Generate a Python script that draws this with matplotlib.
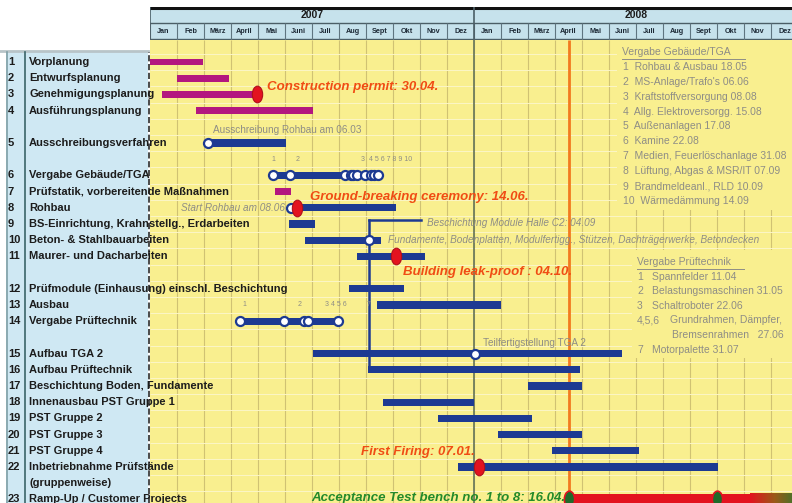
import numpy as np
import pandas as pd
import matplotlib
matplotlib.use("Agg")
import matplotlib.pyplot as plt
from matplotlib.patches import Rectangle
from matplotlib.lines import Line2D
from matplotlib.path import Path
from matplotlib.transforms import Affine2D, blended_transform_factory
from matplotlib.colors import LinearSegmentedColormap

plt.rcParams['font.family'] = ['Liberation Sans', 'DejaVu Sans']

# ---- schedule data -------------------------------------------------------
years = ['2007', '2008']
months = ['Jan', 'Feb', 'März', 'April', 'Mai', 'Juni', 'Juli', 'Aug', 'Sept', 'Okt', 'Nov', 'Dez']

task_names = [
    'Vorplanung', 'Entwurfsplanung', 'Genehmigungsplanung', 'Ausführungsplanung',
    'Ausschreibungsverfahren', 'Vergabe Gebäude/TGA', 'Prüfstatik, vorbereitende Maßnahmen',
    'Rohbau', 'BS-Einrichtung, Krahnstellg., Erdarbeiten', 'Beton- & Stahlbauarbeiten',
    'Maurer- und Dacharbeiten', 'Prüfmodule (Einhausung) einschl. Beschichtung', 'Ausbau',
    'Vergabe Prüftechnik', 'Aufbau TGA 2', 'Aufbau Prüftechnik', 'Beschichtung Boden, Fundamente',
    'Innenausbau PST Gruppe 1', 'PST Gruppe 2', 'PST Gruppe 3', 'PST Gruppe 4',
    'Inbetriebnahme Prüfstände\n(gruppenweise)', 'Ramp-Up / Customer Projects',
]
task_slot = [0, 1, 2, 3, 5, 7, 8, 9, 10, 11, 12, 14, 15, 16, 18, 19, 20, 21, 22, 23, 24, 25, 27]
task_start = ['2007-01-01', '2007-02-01', '2007-01-15', '2007-02-21', '2007-03-06', '2007-05-18',
              '2007-05-21', '2007-06-08', '2007-06-05', '2007-06-23', '2007-08-22', '2007-08-13',
              '2007-09-13', '2007-04-11', '2007-07-02', '2007-09-03', '2008-03-01', '2007-09-20',
              '2007-11-21', '2008-01-29', '2008-03-29', '2007-12-14', '2008-04-16']
task_end = ['2007-02-28', '2007-03-30', '2007-04-30', '2007-07-02', '2007-06-02', '2007-09-18',
            '2007-06-08', '2007-10-05', '2007-07-04', '2007-09-18', '2007-11-06', '2007-10-14',
            '2008-02-01', '2007-07-31', '2008-06-15', '2008-04-29', '2008-05-01', '2008-01-01',
            '2008-03-06', '2008-05-01', '2008-07-05', '2008-10-02', '2008-11-08']
task_kind = ['plan', 'plan', 'plan', 'plan', 'build', 'build', 'plan', 'build', 'build', 'build',
             'build', 'build', 'build', 'build', 'build', 'build', 'build', 'build', 'build',
             'build', 'build', 'build', 'ramp']

# contract awards "Vergabe Gebäude/TGA" (row 6)
tga_items = ['Rohbau & Ausbau', 'MS-Anlage/Trafo\'s', 'Kraftstoffversorgung', 'Allg. Elektroversorgg.',
             'Außenanlagen', 'Kamine', 'Medien, Feuerlöschanlage', 'Lüftung, Abgas & MSR/IT',
             'Brandmeldeanl., RLD', 'Wärmedämmung']
tga_dates = ['2007-05-18', '2007-06-06', '2007-08-08', '2007-08-15', '2007-08-17',
             '2007-08-22', '2007-08-31', '2007-09-07', '2007-09-10', '2007-09-14']

# contract awards "Vergabe Prüftechnik" (row 14)
pt_numbers = ['1', '2', '3', '4,5,6', '7']
pt_items = ['Spannfelder', 'Belastungsmaschinen', 'Schaltroboter',
            'Grundrahmen, Dämpfer,\nBremsenrahmen', 'Motorpalette']
pt_dates = ['2007-04-11', '2007-05-31', '2007-06-22', '2007-06-27', '2007-07-31']

# other open-circle events: (row slot, date)
event_slot = [5, 9, 11, 18]
event_dates = ['2007-03-06', '2007-06-08', '2007-09-04', '2008-01-02']

# milestones (red markers) with their captions
ms_slot = [2, 9, 12, 25]
ms_dates = ['2007-04-30', '2007-06-14', '2007-10-04', '2008-01-07']
ms_text = ['Construction permit: 30.04.', 'Ground-breaking ceremony: 14.06.',
           'Building leak-proof : 04.10.', 'First Firing: 07.01.']

accept_date = '2008-04-16'
ramp_marks = ['2008-04-16', '2008-10-01']

BLUE = '#1d3a92'
MAGENTA = '#b3177f'
RED = '#e3131f'
ORANGE = '#f04c14'
GREEN = '#238a2b'
GREY = '#8e8d86'
YELLOW = '#f9ef8f'
PANEL = '#cfe8f3'
HEAD = '#c6e2ec'
TEXT = '#1c1c1c'


def mpos(date):
    """Month position counted from 1 Jan 2007 (equal width per month)."""
    d = pd.Timestamp(date)
    return (d.year - 2007) * 12 + d.month - 1 + (d.day - 1) / d.days_in_month


W, H = 792, 503
fig = plt.figure(figsize=(W / 100, H / 100), dpi=100)
fig.patch.set_facecolor('white')

XMAX = (W - 150) / 27.0
Y0, DY = 62.0, 16.2
ytop = (40 - Y0) / DY
ybot = (H - Y0) / DY

ax = fig.add_axes([150 / W, 0, (W - 150) / W, (H - 40) / H])
ax.set_facecolor(YELLOW)
ax.set_xlim(0, XMAX)
ax.set_ylim(ybot, ytop)
ax.axis('off')
ax.add_patch(Rectangle((0, ytop), XMAX, ybot - ytop, fc=YELLOW, ec='none', zorder=0))

# grid: months, year boundary, row separators
ax.vlines(np.arange(1, 24), ytop, ybot, color='#d0c273', lw=0.8, zorder=1)
ax.vlines([12], ytop, ybot, color='#6f7d5c', lw=1.3, zorder=1.1)
ax.hlines(np.arange(-1, 28) + 0.5, 0, XMAX, color='#fcf6c6', lw=0.7, zorder=1)

# note boxes hide the grid behind them
ax.add_patch(Rectangle((17.3, ytop), 7, 9.15 - ytop, fc=YELLOW, ec='none', zorder=1.5))
ax.add_patch(Rectangle((17.85, 11.6), 7, 6.7, fc=YELLOW, ec='none', zorder=1.5))

# acceptance date line
ax.vlines([mpos(accept_date)], ytop, 27.1, color='#f27a1f', lw=2, zorder=3)

# connector from 04.09 (Beschichtung Module) down to Aufbau Prüftechnik
xc = mpos('2007-09-04')
ax.plot([xc, xc], [9.75, 19], color=BLUE, lw=1.8, zorder=3.5)
ax.plot([xc, 10.05], [9.75, 9.75], color=BLUE, lw=1.8, zorder=3.5)

# bars
for slot, s, e, kind in zip(task_slot, task_start, task_end, task_kind):
    x0, x1 = mpos(s), mpos(e)
    if kind == 'plan':
        ax.barh(slot, x1 - x0, left=x0, height=0.42, color=MAGENTA, zorder=4)
    elif kind == 'build':
        ax.barh(slot, x1 - x0, left=x0, height=0.44, color=BLUE, zorder=4)
    else:
        ax.barh(slot, x1 - x0, left=x0, height=0.72, color=RED, zorder=4)
        grad = LinearSegmentedColormap.from_list('ramp', [RED, '#9a5a18', '#2f7a2f'])
        ax.imshow(np.linspace(0, 1, 64)[None, :], cmap=grad, aspect='auto',
                  extent=[x1, XMAX + 0.3, slot + 0.36, slot - 0.36], zorder=4)

# open circles for award / start events
circle_kw = dict(marker='o', ms=6.5, mfc='white', mec=BLUE, mew=1.6, ls='none', zorder=5)
ax.plot([mpos(d) for d in tga_dates], [7] * len(tga_dates), **circle_kw)
ax.plot([mpos(d) for d in pt_dates], [16] * len(pt_dates), **circle_kw)
ax.plot([mpos(d) for d in event_dates], event_slot, **circle_kw)

# milestone markers: upright rounded shape
shield = Path.unit_circle().transformed(Affine2D().scale(0.62, 1.0))
ax.plot([mpos(d) for d in ms_dates], ms_slot, marker=shield, ms=12, mfc=RED, mec='#b0101a',
        mew=0.8, ls='none', zorder=6)
ax.plot([mpos(d) for d in ramp_marks], [27] * len(ramp_marks), marker=shield, ms=12,
        mfc='#1f6b2a', mec=RED, mew=1.2, ls='none', zorder=6)

# milestone captions
ms_style = dict(color=ORANGE, fontsize=9.5, fontweight='bold', fontstyle='italic', zorder=7, va='center')
ax.text(mpos(ms_dates[0]) + 0.36, 1.54, ms_text[0], ha='left', **ms_style)
ax.text(mpos(ms_dates[1]) + 0.5, 8.33, ms_text[1], ha='left', **ms_style)
ax.text(mpos(ms_dates[2]) + 0.27, 12.96, ms_text[2], ha='left', **ms_style)
ax.text(mpos(ms_dates[3]) - 0.15, 24.07, ms_text[3], ha='right', **ms_style)
ax.text(mpos(accept_date) - 0.12, 26.9, 'Acceptance Test bench no. 1 to 8: 16.04.', ha='right',
        color=GREEN, fontsize=9.5, fontweight='bold', fontstyle='italic', va='center', zorder=7)

# grey remarks along the bars
note = dict(color=GREY, fontsize=7.2, va='center', zorder=7)
ax.text(2.33, 4.2, 'Ausschreibung Rohbau am 06.03', **note)
ax.text(mpos(event_dates[1]) - 0.25, 9, 'Start Rohbau am 08.06', ha='right', fontstyle='italic', **note)
ax.text(10.26, 9.95, 'Beschichtung Module Halle C2: 04.09', fontstyle='italic', **note)
ax.text(8.8, 11, 'Fundamente, Bodenplatten, Modulfertigg., Stützen, Dachträgerwerke, Betondecken',
        fontstyle='italic', **note)
ax.text(12.33, 17.35, 'Teilfertigstellung TGA 2', **note)

# tiny index numbers above the award rows
tiny = dict(color=GREY, fontsize=5, va='center', zorder=7)
ax.text(4.5, 6, '1', **tiny)
ax.text(5.4, 6, '2', **tiny)
ax.text(7.8, 6, '3  4 5 6 7 8 9 10', **tiny)
ax.text(3.44, 15, '1', **tiny)
ax.text(5.48, 15, '2', **tiny)
ax.text(6.48, 15, '3 4 5 6', **tiny)
ax.text(8.04, 15, '7', **tiny)

# award lists on the right
lst = dict(color=GREY, fontsize=7.5, va='center', zorder=7)
ax.text(17.48, -0.62, 'Vergabe Gebäude/TGA', **lst)
ax.plot([17.48, 22.05], [-0.2, -0.2], color=GREY, lw=0.7, zorder=7)
for i, (item, d) in enumerate(zip(tga_items, tga_dates)):
    y = -0.62 + 0.92 * (i + 1)
    ax.text(17.52, y, f"{i + 1}  {item} {pd.Timestamp(d):%d.%m}", **lst)

ax.text(18.04, 12.35, 'Vergabe Prüftechnik', **lst)
ax.plot([18.04, 22.0], [12.77, 12.77], color=GREY, lw=0.7, zorder=7)
y = 12.35
for num, item, d in zip(pt_numbers, pt_items, pt_dates):
    y += 0.9
    ax.text(18.04, y, num, **lst)
    lines = item.split('\n')
    if len(lines) == 1:
        ax.text(18.6, y, f"{item} {pd.Timestamp(d):%d.%m}", **lst)
    else:
        ax.text(19.25, y, lines[0], **lst)
        y += 0.9
        ax.text(19.33, y, f"{lines[1]}   {pd.Timestamp(d):%d.%m}", **lst)

# ---- header: years and months -------------------------------------------
hx = fig.add_axes([150 / W, (H - 40) / H, (W - 150) / W, 33 / H])
hx.set_xlim(0, XMAX)
hx.set_ylim(0, 1)
hx.axis('off')
hx.add_patch(Rectangle((0, 0), XMAX, 1, fc=HEAD, ec='none'))
hx.axhline(0.98, color='#111111', lw=2.2)
hx.axhline(0.53, color='#4b5e66', lw=1.0)
hx.axhline(0.02, color='#4b5e66', lw=1.0)
hx.vlines(np.arange(0, 25), 0, 0.53, color='#5f7580', lw=0.8)
hx.vlines([0, 12, 24], 0, 1, color='#4b5e66', lw=1.2)
for k, yr in enumerate(years):
    hx.text(12 * k + 6, 0.76, yr, ha='center', va='center', fontsize=7.5, fontweight='bold', color=TEXT)
    for j, mo in enumerate(months):
        hx.text(12 * k + j + 0.5, 0.27, mo, ha='center', va='center', fontsize=5.2,
                fontweight='bold', color='#1d2a36')

# ---- left panel with task numbers and names -----------------------------
fig.add_artist(Rectangle((6 / W, 0), 142 / W, (H - 52) / H, transform=fig.transFigure,
                         fc=PANEL, ec='none', zorder=-1))
fig.add_artist(Line2D([0, 148 / W], [(H - 51) / H] * 2, transform=fig.transFigure,
                      color='#b8c4c8', lw=2, zorder=-0.9))
for xp, col, ls in [(7, '#7f9fa5', '-'), (25, '#3b6468', '-'), (148.5, '#2b2b2b', '--')]:
    fig.add_artist(Line2D([xp / W] * 2, [0, (H - 52) / H], transform=fig.transFigure,
                          color=col, lw=1.2, ls=ls, zorder=-0.8))

trans = blended_transform_factory(fig.transFigure, ax.transData)
for n, (name, slot) in enumerate(zip(task_names, task_slot), start=1):
    ax.text(8 / W, slot, str(n), transform=trans, fontsize=8, fontweight='bold', color=TEXT,
            va='center', ha='left')
    for i, line in enumerate(name.split('\n')):
        ax.text(29 / W, slot + i, line, transform=trans, fontsize=8, fontweight='bold',
                color=TEXT, va='center', ha='left', zorder=8)

fig.savefig('out.png', dpi=100)
